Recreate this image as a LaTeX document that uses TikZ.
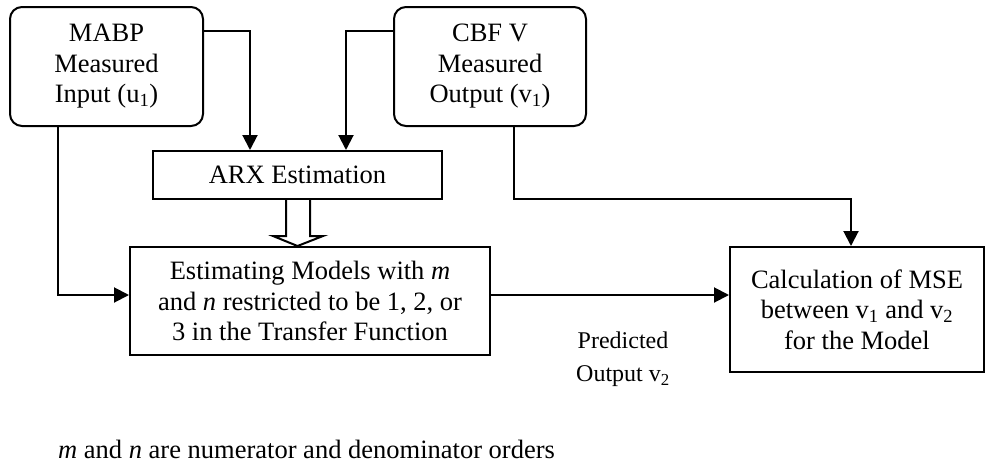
\documentclass[tikz,border=0pt]{standalone}
\usepackage{fontspec}
\setmainfont{Liberation Serif}
\usetikzlibrary{arrows.meta,calc}
\begin{document}
\begin{tikzpicture}[x=1pt,y=-1pt,
  box/.style={draw,line width=2pt,inner sep=0pt,align=center,
    font=\fontsize{26.5}{30.5}\selectfont},
  rbox/.style={box,rounded corners=12pt},
  arr/.style={line width=2pt,-{Triangle[width=15pt,length=15pt]}},
  ln/.style={line width=2pt}]
\useasboundingbox (0,0) rectangle (986,464);
\node[rbox,minimum width=193pt,minimum height=119pt] (mabp) at (106.5,66.5)
  {MABP\\Measured\\Input (u\textsubscript{1})};
\node[rbox,minimum width=192pt,minimum height=119pt] (cbf) at (490,66.5)
  {CBF V\\Measured\\Output (v\textsubscript{1})};
\node[box,minimum width=289pt,minimum height=48pt] (arx) at (297.5,175)
  {ARX Estimation};
\node[box,minimum width=360pt,minimum height=108pt] (est) at (310,301)
  {Estimating Models with \textit{m}\\and \textit{n} restricted to be 1, 2, or\\3 in the Transfer Function};
\node[box,minimum width=254pt,minimum height=125pt] (mse) at (857,309.5)
  {Calculation of MSE\\between v\textsubscript{1} and v\textsubscript{2}\\for the Model};
\node[align=center,font=\fontsize{24}{33}\selectfont] (pred) at (623,359)
  {Predicted\\Output v\textsubscript{2}};
\node[anchor=base west,inner sep=0pt,font=\fontsize{26.5}{30.5}\selectfont] (note) at (58,458)
  {\textit{m} and \textit{n} are numerator and denominator orders};
\coordinate (c1) at (250,31);
\coordinate (c2) at (346,31);
\coordinate (c3) at (58,295);
\coordinate (c4) at (514,199);
\coordinate (c5) at (851,199);
\draw[arr] (mabp.east |- c1) -| (arx.north -| c1);
\draw[arr] (cbf.west |- c2) -| (arx.north -| c2);
\draw[arr] (mabp.south -| c3) |- (est.west |- c3);
\draw[arr] (est.east |- c3) -- (mse.west |- c3);
\draw[arr] (cbf.south -| c4) |- (c5) -- (mse.north -| c5);
\draw[ln,fill=white,line join=miter]
  ($(arx.south)+(-11.5,0)$) -- ++(0,36) -- ++(-13,0)
  -- ($(arx.south |- est.north)$) -- ($(arx.south)+(25.5,36)$)
  -- ++(-13,0) -- ($(arx.south)+(12.5,0)$);
\end{tikzpicture}
\end{document}
